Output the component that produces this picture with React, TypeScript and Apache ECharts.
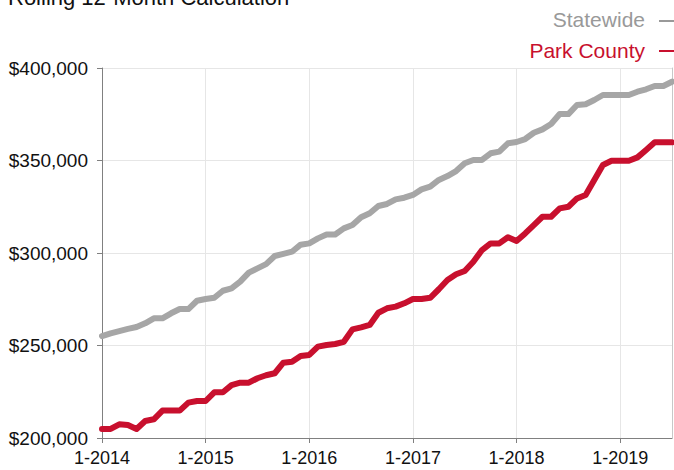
import React, { useEffect, useRef } from "react";
import * as echarts from "echarts";

const years = [2014, 2015, 2016, 2017, 2018, 2019];
const lastMonthOf2019 = 7;
const categories: string[] = [];
for (const y of years) {
  for (let m = 1; m <= 12; m++) {
    if (y === 2019 && m > lastMonthOf2019) break;
    categories.push(`${m}-${y}`);
  }
}

// values in thousands of dollars
const statewideK = [
  255.1, 256.6, 257.8, 259, 260, 262, 264.7, 264.7, 267.4, 269.7, 269.7, 274.2,
  275.1, 275.8, 279.6, 280.9, 284.5, 289.4, 291.7, 294, 298.4, 299.5, 300.7, 304.5,
  305.2, 307.9, 310, 310, 313.3, 315.1, 319.3, 321.5, 325.4, 326.5, 329, 329.9,
  331.4, 334.4, 335.9, 339.5, 341.6, 344.3, 348.5, 350.3, 350.3, 353.9, 354.8, 359.3,
  360, 361.6, 365, 366.8, 369.7, 375.1, 375.1, 380, 380.4, 382.7, 385.4, 385.4,
  385.4, 385.4, 387.2, 388.5, 390.3, 390.3, 392.6,
];
const parkCountyK = [
  204.9, 204.9, 207.4, 207, 204.9, 209.2, 210.1, 214.8, 214.8, 214.8, 219.1, 220,
  220, 224.7, 224.7, 228.6, 229.9, 229.9, 232.3, 233.9, 235, 240.7, 241.2, 244.3,
  244.9, 249.4, 250.3, 250.8, 252, 258.7, 259.8, 261.1, 267.7, 270.1, 271, 272.8,
  275.1, 275.1, 275.8, 280.4, 285.4, 288.5, 290.3, 295.3, 301.6, 305.2, 305.2, 308.5,
  306.5, 310.6, 315.1, 319.6, 319.6, 324.1, 325, 329.5, 331.4, 339.5, 347.6, 349.9,
  349.9, 349.9, 351.7, 355.7, 359.8, 359.8, 359.8,
];
const yMin = 200000;
const yMax = 400000;
const yStep = 50000;

const titleText = "Rolling 12-Month Calculation";
const legendNames = ["Statewide", "Park County"];
const FONT = "'Liberation Sans', Arial, Helvetica, sans-serif";
const GRAY = "#a6a6a6";
const GRAY_TEXT = "#999999";
const RED = "#c8102e";

export default function App() {
  const ref = useRef<HTMLDivElement>(null);
  useEffect(() => {
    if (!ref.current) return;
    const chart = echarts.init(ref.current, null, { renderer: "svg" });
    const fmt = (v: number) => "$" + v.toLocaleString("en-US");
    chart.setOption({
      animation: false,
      textStyle: { fontFamily: FONT },
      grid: { left: 102, right: 2, top: 68, bottom: 32, containLabel: false },
      xAxis: {
        type: "category",
        data: categories,
        boundaryGap: false,
        axisLine: { show: true, lineStyle: { color: "#808080", width: 1 } },
        axisTick: { show: true, interval: 11, length: 5, lineStyle: { color: "#808080" } },
        axisLabel: { interval: 11, color: "#111", fontSize: 18, margin: 11, fontFamily: FONT },
        splitLine: { show: true, interval: 11, lineStyle: { color: "#e6e6e6", width: 1 } },
      },
      yAxis: [
        {
          type: "value",
          min: yMin,
          max: yMax,
          interval: yStep,
          axisLine: { show: true, lineStyle: { color: "#808080", width: 1 } },
          axisTick: { show: true, length: 5, lineStyle: { color: "#808080" } },
          axisLabel: { color: "#111", fontSize: 19, margin: 14, formatter: fmt, fontFamily: FONT },
          splitLine: { show: true, lineStyle: { color: "#e6e6e6", width: 1 } },
        },
        {
          type: "value",
          position: "right",
          min: yMin,
          max: yMax,
          interval: yStep,
          axisLine: { show: true, lineStyle: { color: "#c8c8c8", width: 1 } },
          axisTick: { show: false },
          axisLabel: { show: false },
          splitLine: { show: false },
        },
      ],
      series: [
        {
          name: legendNames[0],
          type: "line",
          data: statewideK.map((v) => v * 1000),
          showSymbol: false,
          symbol: "none",
          lineStyle: { color: GRAY, width: 6, join: "round", cap: "round" },
          itemStyle: { color: GRAY },
        },
        {
          name: legendNames[1],
          type: "line",
          data: parkCountyK.map((v) => v * 1000),
          showSymbol: false,
          symbol: "none",
          lineStyle: { color: RED, width: 6, join: "round", cap: "round" },
          itemStyle: { color: RED },
        },
      ],
      graphic: [
        {
          type: "text",
          left: 8,
          top: -14,
          style: { text: titleText, fill: "#111", fontSize: 22, fontFamily: FONT },
        },
        {
          type: "text",
          x: 645,
          y: 19,
          style: { text: legendNames[0], fill: GRAY_TEXT, fontSize: 21, fontFamily: FONT, align: "right", verticalAlign: "middle" },
        },
        {
          type: "line",
          shape: { x1: 659, y1: 21, x2: 674, y2: 21 },
          style: { stroke: GRAY_TEXT, lineWidth: 2 },
        },
        {
          type: "text",
          x: 645,
          y: 50,
          style: { text: legendNames[1], fill: RED, fontSize: 21, fontFamily: FONT, align: "right", verticalAlign: "middle" },
        },
        {
          type: "line",
          shape: { x1: 659, y1: 51, x2: 674, y2: 51 },
          style: { stroke: RED, lineWidth: 2 },
        },
      ],
    });
    return () => chart.dispose();
  }, []);
  return (
    <div
      ref={ref}
      style={{ position: "absolute", left: 0, top: 0, width: 674, height: 470, background: "#fff" }}
    />
  );
}
